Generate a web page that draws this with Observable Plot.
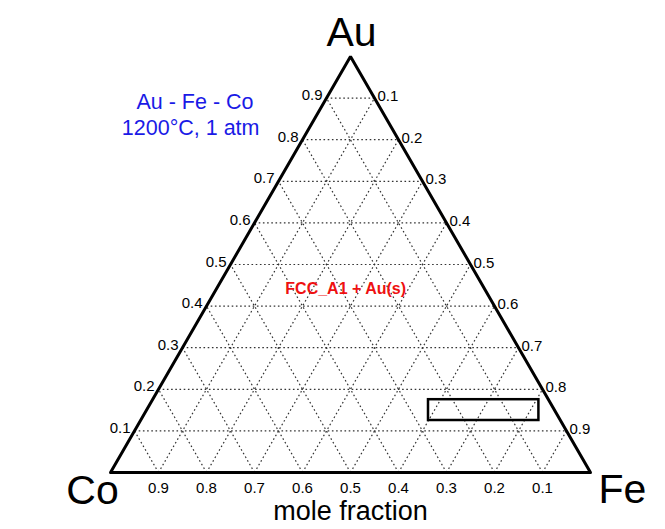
<!DOCTYPE html>
<html>
<head>
<meta charset="utf-8">
<script src="https://cdn.jsdelivr.net/npm/d3@7"></script>
<script src="https://cdn.jsdelivr.net/npm/@observablehq/plot@0.6"></script>
<style>
  html, body { margin: 0; padding: 0; background: #fff; }
  svg { display: block; }
</style>
</head>
<body>
<div id="chart"></div>
<script>
// ---- data ----
const components = ["Au", "Fe", "Co"];          // top, right, left vertices
const tickValues = [0.1, 0.2, 0.3, 0.4, 0.5, 0.6, 0.7, 0.8, 0.9];
const tickLabels = ["0.1", "0.2", "0.3", "0.4", "0.5", "0.6", "0.7", "0.8", "0.9"];
const titleLines = ["Au - Fe - Co", "1200\u00B0C, 1 atm"];
const axisTitle = "mole fraction";
const phaseLabel = "FCC_A1 + Au(s)";
const phaseAu = 0.43, phaseFe = 0.275;           // label composition
const boxAu = [0.125, 0.175];                   // highlighted box, Au range
const boxFe = [0.60, 0.83];                     // Fe range along the lower edge

// ---- ternary -> cartesian ----
const S = Math.sqrt(3) / 2;
const cx = (au, fe) => fe + au / 2;
const cy = (au) => au * S;

// grid segments
const grid = [];
tickValues.forEach(v => {
  grid.push({x1: cx(v, 0), y1: cy(v), x2: cx(v, 1 - v), y2: cy(v)});          // Au = v
  grid.push({x1: cx(0, v), y1: cy(0), x2: cx(1 - v, v), y2: cy(1 - v)});      // Fe = v
  grid.push({x1: cx(0, 1 - v), y1: cy(0), x2: cx(1 - v, 0), y2: cy(1 - v)}); // Co = v
});

const outline = [
  {x: cx(0, 0), y: cy(0)},   // Co
  {x: cx(0, 1), y: cy(0)},   // Fe
  {x: cx(1, 0), y: cy(1)},   // Au
  {x: cx(0, 0), y: cy(0)},   // Co
  {x: cx(0, 1), y: cy(0)}    // Fe (overdraw to get a mitred Co corner)
];

const leftLabels = tickValues.map((v, i) => ({x: cx(v, 0), y: cy(v), t: tickLabels[i]}));           // Au
const rightLabels = tickValues.map((v, i) => ({x: cx(1 - v, v), y: cy(1 - v), t: tickLabels[i]}));  // Fe
const bottomLabels = tickValues.map((v, i) => ({x: cx(0, 1 - v), y: 0, t: tickLabels[i]}));         // Co

const box = [{x1: cx(boxAu[0], boxFe[0]), x2: cx(boxAu[0], boxFe[1]), y1: cy(boxAu[0]), y2: cy(boxAu[1])}];

const font = "Liberation Sans, Arial, Helvetica, sans-serif";

const chart = Plot.plot({
  width: 665,
  height: 529,
  marginLeft: 110,
  marginRight: 75,
  marginTop: 56,
  marginBottom: 57,
  x: {domain: [0, 1], axis: null},
  y: {domain: [0, S], axis: null},
  style: {fontFamily: font, background: "#fff"},
  marks: [
    Plot.link(grid, {x1: "x1", y1: "y1", x2: "x2", y2: "y2", stroke: "#333", strokeWidth: 1.2, strokeDasharray: "1.6,2.6"}),
    Plot.line(outline, {x: "x", y: "y", stroke: "#000", strokeWidth: 3, strokeLinejoin: "miter"}),
    Plot.rect(box, {x1: "x1", x2: "x2", y1: "y1", y2: "y2", fill: "none", stroke: "#000", strokeWidth: 2.5}),
    Plot.text(leftLabels, {x: "x", y: "y", text: "t", textAnchor: "end", lineAnchor: "bottom", dx: -4, dy: 2, fontSize: 15, fill: "#000"}),
    Plot.text(rightLabels, {x: "x", y: "y", text: "t", textAnchor: "start", lineAnchor: "bottom", dx: 3, dy: 3, fontSize: 15, fill: "#000"}),
    Plot.text(bottomLabels, {x: "x", y: "y", text: "t", textAnchor: "middle", lineAnchor: "bottom", dy: 20, fontSize: 15, fill: "#000"}),
    Plot.text([components[0]], {x: cx(1, 0), y: cy(1), text: d => d, textAnchor: "middle", lineAnchor: "bottom", dy: -11, dx: 1, fontSize: 41, fill: "#000"}),
    Plot.text([components[2]], {x: cx(0, 0), y: cy(0), text: d => d, textAnchor: "middle", lineAnchor: "bottom", dx: -18, dy: 31, fontSize: 41, fill: "#000"}),
    Plot.text([components[1]], {x: cx(0, 1), y: cy(0), text: d => d, textAnchor: "middle", lineAnchor: "bottom", dx: 32, dy: 30, fontSize: 41, fill: "#000"}),
    Plot.text([axisTitle], {x: 0.5, y: 0, text: d => d, textAnchor: "middle", lineAnchor: "bottom", dy: 47, fontSize: 27, fill: "#000"}),
    Plot.text([phaseLabel], {x: cx(phaseAu, phaseFe), y: cy(phaseAu), text: d => d, textAnchor: "middle", lineAnchor: "bottom", fontSize: 16, fontWeight: "bold", fill: "#ee1111"}),
    Plot.text([titleLines[0]], {x: 0.176, y: 0.756, text: d => d, textAnchor: "middle", lineAnchor: "bottom", fontSize: 21.5, fill: "#1a1ae6"}),
    Plot.text([titleLines[1]], {x: 0.167, y: 0.702, text: d => d, textAnchor: "middle", lineAnchor: "bottom", fontSize: 21.5, fill: "#1a1ae6"})
  ]
});
document.getElementById("chart").appendChild(chart);
</script>
</body>
</html>
